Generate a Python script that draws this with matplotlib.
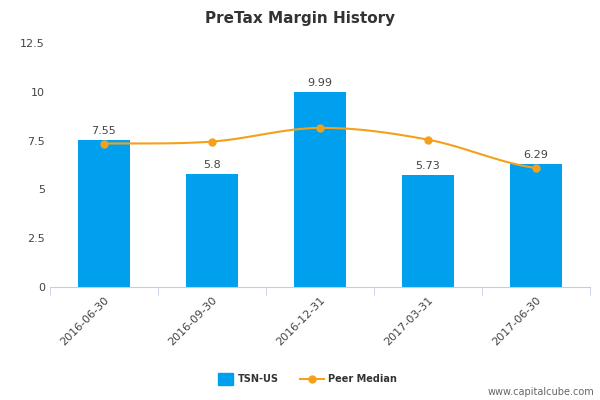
import numpy as np
import matplotlib.pyplot as plt

categories = ['2016-06-30', '2016-09-30', '2016-12-31', '2017-03-31', '2017-06-30']
tsn_values = [7.55, 5.8, 9.99, 5.73, 6.29]
peer_median = [7.35, 7.45, 8.15, 7.55, 6.1]
y_ticks = [0, 2.5, 5, 7.5, 10, 12.5]
y_labels = ['0', '2.5', '5', '7.5', '10', '12.5']

BAR_COLOR = '#00a0ee'
LINE_COLOR = '#f5a01a'


def smooth(xs, ys, n=30):
    # catmull-rom style curve through the points, just for drawing
    xs = np.asarray(xs, float)
    ys = np.asarray(ys, float)
    px = np.concatenate([[2 * xs[0] - xs[1]], xs, [2 * xs[-1] - xs[-2]]])
    py = np.concatenate([[ys[0]], ys, [ys[-1]]])
    out_x, out_y = [], []
    for i in range(1, len(px) - 2):
        t = np.linspace(0, 1, n)
        for p, out in ((px, out_x), (py, out_y)):
            p0, p1, p2, p3 = p[i - 1], p[i], p[i + 1], p[i + 2]
            out.extend(0.5 * (2 * p1 + (-p0 + p2) * t
                              + (2 * p0 - 5 * p1 + 4 * p2 - p3) * t ** 2
                              + (-p0 + 3 * p1 - 3 * p2 + p3) * t ** 3))
    return out_x, out_y


fig = plt.figure(figsize=(6, 4), dpi=100)
ax = fig.add_axes([0.083, 0.2825, 0.9, 0.61])

x = np.arange(len(categories))
ax.bar(x, tsn_values, width=0.48, color=BAR_COLOR, zorder=2)
for xi, v in zip(x, tsn_values):
    ax.text(xi, v + 0.2, f'{v:g}', ha='center', va='bottom', fontsize=8, color='#444444')

sx, sy = smooth(x, peer_median)
ax.plot(sx, sy, color=LINE_COLOR, linewidth=1.5, zorder=3)
ax.plot(x, peer_median, 'o', color=LINE_COLOR, markersize=5, zorder=4)

ax.set_xlim(-0.5, len(categories) - 0.5)
ax.set_ylim(0, 12.5)
ax.set_yticks(y_ticks)
ax.set_yticklabels(y_labels, fontsize=8, color='#444444')
ax.set_xticks(x)
ax.set_xticklabels(categories, rotation=45, ha='right', rotation_mode='anchor',
                   fontsize=8, color='#444444')
ax.tick_params(axis='x', length=0, pad=6)
ax.tick_params(axis='y', length=0)
ax.set_xticks(np.arange(-0.5, len(categories)), minor=True)
ax.tick_params(axis='x', which='minor', length=6, color='#c0cfe0')
for side in ('top', 'right', 'left'):
    ax.spines[side].set_visible(False)
ax.spines['bottom'].set_color('#c0cfe0')

fig.text(0.5, 0.955, 'PreTax Margin History', ha='center', va='center',
         fontsize=11, fontweight='bold', color='#333333')

# legend
fig.patches.append(plt.Rectangle((0.363, 0.038), 0.025, 0.03, transform=fig.transFigure,
                                 color=BAR_COLOR))
fig.text(0.397, 0.052, 'TSN-US', fontsize=7, fontweight='bold', va='center', color='#333333')
fig.lines.append(plt.Line2D([0.5, 0.54], [0.052, 0.052], transform=fig.transFigure,
                            color=LINE_COLOR, linewidth=1.5, marker='o', markersize=5,
                            markevery=[0]))
fig.lines[-1].set_markevery(None)
fig.lines.append(plt.Line2D([0.52], [0.052], transform=fig.transFigure,
                            color=LINE_COLOR, marker='o', markersize=5))
fig.text(0.547, 0.052, 'Peer Median', fontsize=7, fontweight='bold', va='center', color='#333333')
fig.lines[-2].set_marker('')

fig.text(0.99, 0.02, 'www.capitalcube.com', ha='right', va='center', fontsize=7, color='#666666')

fig.savefig('out.png', dpi=100)
